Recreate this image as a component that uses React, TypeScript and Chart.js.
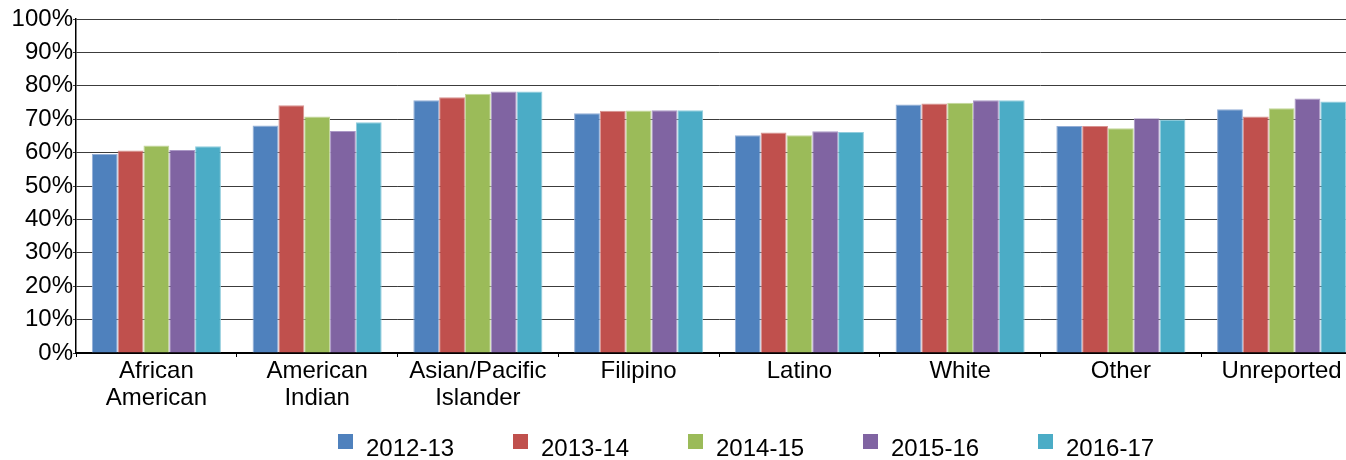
import React, { useEffect, useRef } from "react";
import { Chart, registerables } from "chart.js";

Chart.register(...registerables);

const categories: (string | string[])[] = [
  ["African", "American"],
  ["American", "Indian"],
  ["Asian/Pacific", "Islander"],
  "Filipino",
  "Latino",
  "White",
  "Other",
  "Unreported",
];
const seriesLabels = ["2012-13", "2013-14", "2014-15", "2015-16", "2016-17"];
const values2012 = [59.6, 68.1, 75.7, 71.8, 65.2, 74.4, 68.0, 73.0];
const values2013 = [60.6, 74.2, 76.6, 72.5, 66.0, 74.7, 68.0, 70.8];
const values2014 = [62.1, 70.8, 77.6, 72.6, 65.2, 74.9, 67.3, 73.3];
const values2015 = [60.8, 66.5, 78.3, 72.7, 66.4, 75.7, 70.3, 76.2];
const values2016 = [61.9, 69.1, 78.3, 72.7, 66.2, 75.7, 69.9, 75.3];
const yMin = 0;
const yMax = 100;
const yStep = 10;

const fillColors = ["#4F81BD", "#C0504D", "#9BBB59", "#8064A2", "#4BACC6"];
const borderColors = ["#93AED6", "#D89391", "#C3D79B", "#AB98C6", "#91CDDD"];

const FONT = '"Liberation Sans", Arial, sans-serif';

const legendPlugin = {
  id: "customLegend",
  afterDraw(chart: any) {
    const ctx = chart.ctx as CanvasRenderingContext2D;
    ctx.save();
    ctx.font = `24px ${FONT}`;
    ctx.textBaseline = "alphabetic";
    ctx.textAlign = "left";
    chart.data.datasets.forEach((ds: any, i: number) => {
      const x = 338 + i * 175;
      ctx.fillStyle = ds.backgroundColor;
      ctx.fillRect(x, 434, 15, 15);
      ctx.fillStyle = "#000";
      ctx.fillText(ds.label, x + 28, 456);
    });
    ctx.restore();
  },
};

export default function App() {
  const ref = useRef<HTMLCanvasElement | null>(null);
  useEffect(() => {
    if (!ref.current) return;
    const series = [values2012, values2013, values2014, values2015, values2016];
    const chart = new Chart(ref.current, {
      type: "bar",
      data: {
        labels: categories,
        datasets: series.map((vals, i) => ({
          label: seriesLabels[i],
          data: vals,
          backgroundColor: fillColors[i],
          borderColor: borderColors[i],
          borderWidth: 1,
          categoryPercentage: 0.803,
          barPercentage: 1.0,
        })),
      },
      options: {
        responsive: false,
        animation: false,
        layout: { padding: { top: 19, left: 0, right: 0, bottom: 0 } },
        plugins: {
          legend: { display: false },
          tooltip: { enabled: false },
        },
        scales: {
          x: {
            afterFit: (scale: any) => {
              scale.height = 107;
            },
            grid: {
              display: true,
              drawOnChartArea: false,
              offset: true,
              tickLength: 4,
              color: "#000",
            },
            border: { display: true, color: "#000", width: 2 },
            ticks: {
              color: "#000",
              font: { family: FONT, size: 24, lineHeight: "27px" },
              padding: 1,
              maxRotation: 0,
              autoSkip: false,
            },
          },
          y: {
            min: yMin,
            max: yMax,
            afterFit: (scale: any) => {
              scale.width = 76;
            },
            grid: { color: "#3c3c3c", lineWidth: 1, tickLength: 3 },
            border: { display: true, color: "#000", width: 1.5 },
            ticks: {
              stepSize: yStep,
              color: "#000",
              padding: 0,
              font: { family: FONT, size: 24 },
              callback: (v: any) => `${v}%`,
            },
          },
        },
      },
      plugins: [legendPlugin],
    });
    return () => chart.destroy();
  }, []);
  return (
    <div
      style={{
        position: "absolute",
        left: 0,
        top: 0,
        width: 1346,
        height: 460,
        overflow: "hidden",
      }}
    >
      <canvas ref={ref} width={1362} height={460} style={{ display: "block" }} />
    </div>
  );
}
